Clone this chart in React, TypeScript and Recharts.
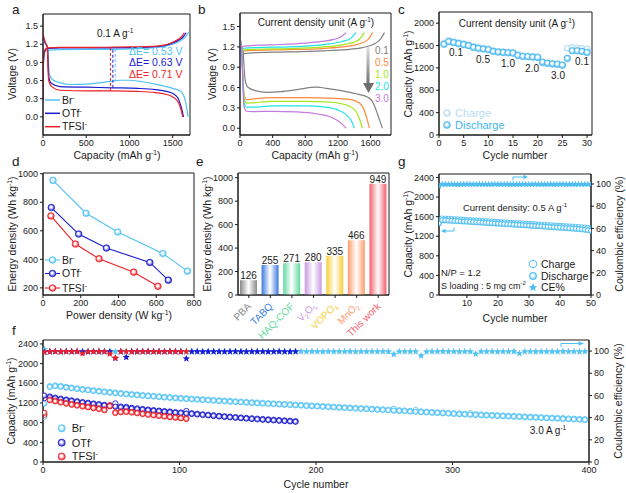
import React from "react"
import { LineChart, Line, XAxis, YAxis, ScatterChart, Scatter, BarChart, Bar, Cell, LabelList, ReferenceArea } from "recharts"

const FONT = '"Liberation Sans", Arial, sans-serif'
const INK = "#1a1a1a"
const BR = "#52c2f5"
const OTF = "#1b1bcf"
const TFSI = "#ee1f26"
const C_DIS = "#45b6f0"
const C_CH = "#b9dbf3"
const G_COL = "#4dbdf2"

// ---------- panel a: GCD curves at 0.1 A/g, [capacity, voltage]
const aBrCharge = [[0, 0.32], [6, 0.9], [18, 1.06], [50, 1.1], [200, 1.11], [600, 1.115], [1000, 1.125], [1250, 1.14], [1400, 1.165], [1500, 1.2], [1580, 1.25], [1640, 1.31], [1690, 1.41]]
const aOtfCharge = [[0, 0.28], [6, 0.92], [18, 1.08], [50, 1.13], [200, 1.14], [600, 1.14], [1000, 1.145], [1250, 1.155], [1400, 1.175], [1480, 1.21], [1560, 1.26], [1620, 1.32], [1655, 1.39]]
const aTfsiCharge = [[0, 0.25], [6, 0.95], [18, 1.1], [50, 1.14], [200, 1.15], [600, 1.15], [1000, 1.155], [1250, 1.165], [1400, 1.185], [1480, 1.22], [1550, 1.27], [1600, 1.32], [1635, 1.39]]
const aBrDis = [[0, 1.3], [30, 1.2], [55, 1.15], [62, 0.95], [72, 0.72], [100, 0.63], [180, 0.57], [320, 0.535], [500, 0.54], [700, 0.57], [900, 0.605], [1000, 0.605], [1150, 0.58], [1300, 0.54], [1450, 0.49], [1550, 0.45], [1600, 0.41], [1630, 0.34], [1650, 0.24], [1665, 0.12], [1678, 0]]
const aOtfDis = [[0, 1.33], [30, 1.21], [52, 1.15], [58, 0.9], [68, 0.65], [100, 0.55], [200, 0.5], [500, 0.49], [800, 0.48], [1100, 0.47], [1300, 0.45], [1430, 0.42], [1510, 0.38], [1560, 0.31], [1590, 0.2], [1610, 0.1], [1625, 0]]
const aTfsiDis = [[0, 1.36], [30, 1.22], [50, 1.16], [56, 0.88], [66, 0.6], [100, 0.5], [200, 0.44], [500, 0.43], [800, 0.43], [1100, 0.42], [1300, 0.4], [1430, 0.37], [1500, 0.33], [1550, 0.27], [1585, 0.17], [1605, 0.07], [1615, 0]]
// ΔE dashed markers: capacity, low, high
const aDash = [[780, 0.43, 1.15, TFSI], [808, 0.48, 1.14, OTF], [835, 0.58, 1.115, BR]]

// ---------- panel b: rate GCD curves
const bRates = ["0.1", "0.5", "1.0", "2.0", "3.0"]
const bColors = ["#808080", "#ff8a3d", "#a4e81a", "#20e3e8", "#c07ae0"]
const bCharge = [
  [[0, 0.3], [6, 0.9], [18, 1.06], [50, 1.1], [200, 1.115], [600, 1.125], [1000, 1.14], [1300, 1.16], [1500, 1.19], [1600, 1.22], [1680, 1.27], [1730, 1.33], [1770, 1.41]],
  [[0, 0.3], [6, 0.95], [18, 1.1], [50, 1.14], [200, 1.15], [600, 1.16], [1000, 1.175], [1250, 1.2], [1400, 1.225], [1500, 1.26], [1570, 1.31], [1625, 1.41]],
  [[0, 0.3], [6, 0.97], [18, 1.12], [50, 1.155], [200, 1.165], [600, 1.175], [900, 1.19], [1150, 1.21], [1300, 1.24], [1400, 1.27], [1470, 1.32], [1525, 1.41]],
  [[0, 0.3], [6, 1.0], [18, 1.15], [50, 1.18], [200, 1.19], [600, 1.2], [900, 1.22], [1100, 1.245], [1250, 1.28], [1350, 1.32], [1420, 1.41]],
  [[0, 0.3], [6, 1.02], [18, 1.18], [50, 1.21], [200, 1.225], [500, 1.235], [800, 1.255], [1000, 1.28], [1150, 1.31], [1240, 1.35], [1300, 1.41]],
]
const bDis = [
  [[0, 1.3], [25, 1.18], [40, 1.1], [50, 0.9], [65, 0.7], [100, 0.6], [200, 0.55], [320, 0.53], [500, 0.54], [700, 0.57], [930, 0.605], [1100, 0.58], [1300, 0.54], [1450, 0.5], [1560, 0.46], [1620, 0.4], [1670, 0.26], [1710, 0.12], [1745, 0]],
  [[0, 1.32], [20, 1.18], [35, 0.8], [50, 0.5], [80, 0.42], [150, 0.43], [400, 0.45], [800, 0.45], [1100, 0.445], [1300, 0.43], [1420, 0.4], [1490, 0.34], [1530, 0.24], [1560, 0.12], [1585, 0]],
  [[0, 1.32], [20, 1.18], [35, 0.75], [50, 0.45], [80, 0.37], [150, 0.375], [400, 0.395], [800, 0.395], [1100, 0.385], [1250, 0.36], [1350, 0.32], [1420, 0.25], [1460, 0.15], [1500, 0]],
  [[0, 1.32], [20, 1.18], [35, 0.7], [50, 0.38], [80, 0.31], [150, 0.31], [400, 0.33], [800, 0.33], [1050, 0.31], [1200, 0.27], [1300, 0.2], [1360, 0.12], [1400, 0]],
  [[0, 1.32], [20, 1.2], [35, 0.65], [50, 0.32], [80, 0.25], [150, 0.245], [400, 0.25], [700, 0.24], [950, 0.21], [1100, 0.17], [1200, 0.11], [1260, 0.05], [1300, 0]],
]

// ---------- panel c: rate capability, cycles 1..30
const cDischarge = [1622, 1670, 1652, 1634, 1616, 1598, 1567, 1550, 1538, 1526, 1495, 1483, 1477, 1471, 1465, 1423, 1405, 1400, 1393, 1387, 1303, 1285, 1273, 1267, 1250, 1370, 1507, 1507, 1495, 1477]
const cCharge = [1640, 1690, 1668, 1650, 1632, 1612, 1582, 1563, 1550, 1538, 1506, 1494, 1487, 1481, 1475, 1433, 1414, 1409, 1402, 1396, 1290, 1278, 1268, 1262, 1248, 1552, 1562, 1556, 1546, 1536]
const cRateLabels = [["0.1", 456, 52], ["0.5", 483, 59], ["1.0", 508, 63], ["2.0", 532, 68], ["3.0", 558, 75], ["0.1", 582, 61]]

// ---------- panel d: Ragone, [power, energy]
const dBr = [[53, 953], [228, 723], [396, 591], [635, 441], [765, 317]]
const dOtf = [[44, 763], [189, 577], [336, 479], [566, 378], [664, 254]]
const dTfsi = [[42, 704], [172, 507], [297, 404], [481, 310], [609, 211]]

// ---------- panel e: energy density comparison
const eNames = ["PBA", "TABQ", "HAQ-COF", "V2O5", "VOPO4", "MnO2", "This work"]
const eLabels = ["PBA", "TABQ", "HAQ-COF", "V_{2}O_{5}", "VOPO_{4}", "MnO_{2}", "This work"]
const eValues = [126, 255, 271, 280, 335, 466, 949]
const eColors = ["#8a8a8a", "#3b7be0", "#63d9a0", "#c79ae3", "#f7cf3a", "#ff9c6b", "#f2616e"]

// ---------- panel g: 0.5 A/g, cycles 1..50
const gDis = [1462, 1528, 1522, 1518, 1515, 1510, 1506, 1502, 1498, 1495, 1491, 1487, 1483, 1479, 1475, 1471, 1467, 1463, 1459, 1455, 1451, 1447, 1443, 1439, 1435, 1431, 1427, 1423, 1419, 1415, 1410, 1406, 1402, 1398, 1394, 1389, 1385, 1381, 1377, 1372, 1368, 1363, 1359, 1354, 1349, 1344, 1338, 1331, 1322, 1310]
const gCh = [1510, 1562, 1558, 1555, 1551, 1547, 1543, 1539, 1535, 1531, 1527, 1523, 1519, 1515, 1511, 1507, 1503, 1499, 1495, 1491, 1487, 1483, 1479, 1475, 1471, 1467, 1463, 1459, 1455, 1451, 1447, 1443, 1439, 1435, 1431, 1427, 1423, 1419, 1415, 1411, 1407, 1403, 1399, 1395, 1390, 1386, 1381, 1376, 1370, 1362]
const gCE = [98.0, 99.6, 99.7, 99.6, 99.8, 99.6, 99.7, 99.7, 99.6, 99.8, 99.7, 99.6, 99.7, 99.8, 99.6, 99.7, 99.7, 99.6, 99.8, 99.7, 99.6, 99.7, 99.8, 99.6, 99.7, 99.7, 99.6, 99.8, 99.7, 99.6, 99.7, 99.8, 99.6, 99.7, 99.7, 99.6, 99.8, 99.7, 99.6, 99.7, 99.8, 99.6, 99.7, 99.7, 99.6, 99.8, 99.7, 99.6, 99.7, 99.8]

// ---------- panel f: 3.0 A/g long cycling, every 4th cycle from cycle 1
const fBrDis = [1190, 1525, 1542, 1530, 1513, 1498, 1484, 1470, 1457, 1444, 1432, 1420, 1408, 1397, 1386, 1376, 1366, 1356, 1347, 1338, 1329, 1320, 1312, 1304, 1296, 1288, 1281, 1274, 1267, 1260, 1253, 1246, 1239, 1233, 1226, 1219, 1213, 1206, 1200, 1194, 1188, 1182, 1176, 1170, 1164, 1158, 1152, 1146, 1140, 1134, 1128, 1122, 1116, 1110, 1104, 1098, 1092, 1086, 1080, 1074, 1068, 1062, 1056, 1050, 1044, 1038, 1032, 1026, 1020, 1014, 1008, 1002, 996, 990, 984, 978, 972, 966, 961, 956, 951, 946, 941, 936, 931, 926, 921, 916, 911, 906, 901, 896, 891, 886, 881, 876, 871, 866, 861, 856]
const fBrCh = [920, 1540, 1556, 1544, 1527, 1512, 1497, 1483, 1470, 1457, 1445, 1433, 1421, 1410, 1399, 1389, 1379, 1369, 1360, 1351, 1342, 1333, 1325, 1317, 1309, 1301, 1294, 1287, 1280, 1273, 1266, 1259, 1252, 1246, 1239, 1232, 1226, 1219, 1213, 1207, 1201, 1195, 1189, 1183, 1177, 1171, 1165, 1159, 1153, 1147, 1141, 1135, 1129, 1123, 1117, 1111, 1105, 1099, 1093, 1087, 1081, 1075, 1069, 1063, 1080, 1051, 1045, 1039, 1055, 1027, 1021, 1015, 1009, 1003, 997, 991, 985, 979, 990, 969, 964, 959, 954, 949, 944, 939, 934, 929, 924, 919, 914, 909, 904, 899, 894, 889, 884, 879, 874, 869]
const fBrCE = [101.5, 99.4, 99.6, 99.5, 99.7, 99.5, 99.6, 99.4, 99.6, 99.5, 99.6, 99.5, 99.7, 99.4, 99.6, 99.5, 99.6, 99.5, 99.7, 99.5, 99.4, 99.6, 99.5, 99.6, 99.5, 99.7, 99.4, 99.6, 99.5, 99.6, 99.5, 99.6, 99.4, 99.6, 99.5, 99.7, 99.5, 99.6, 99.4, 99.6, 99.5, 99.6, 99.5, 99.7, 99.4, 99.6, 99.5, 99.6, 99.5, 99.7, 99.5, 99.4, 99.6, 99.5, 99.6, 99.5, 99.7, 99.4, 99.6, 99.5, 99.6, 99.5, 99.6, 99.4, 97.2, 99.5, 99.6, 99.5, 99.6, 95.8, 99.4, 99.6, 99.5, 99.7, 99.5, 99.6, 99.4, 99.6, 99.5, 97.5, 99.6, 99.5, 99.6, 99.4, 99.6, 99.5, 99.7, 98.0, 99.5, 99.6, 99.4, 99.6, 99.5, 99.6, 99.5, 99.7, 99.5, 99.6, 99.4, 99.6]
const fOtfDis = [1350, 1318, 1294, 1274, 1256, 1239, 1222, 1206, 1191, 1176, 1162, 1149, 1137, 1125, 1112, 1099, 1087, 1075, 1063, 1052, 1041, 1031, 1021, 1011, 1001, 993, 985, 977, 967, 957, 947, 936, 926, 917, 908, 899, 891, 883, 875, 867, 860, 853, 846, 839, 832, 825, 818]
const fOtfCh = [1300, 1330, 1306, 1286, 1268, 1251, 1234, 1218, 1203, 1188, 1174, 1161, 1149, 1190, 1125, 1120, 1100, 1088, 1076, 1064, 1053, 1043, 1033, 1025, 1013, 1005, 1035, 989, 979, 969, 959, 948, 938, 929, 920, 911, 903, 895, 887, 879, 872, 865, 858, 851, 844, 837, 830]
const fOtfCE = [99.2, 99.5, 99.6, 99.4, 99.6, 99.5, 99.6, 99.5, 99.4, 99.6, 99.5, 99.6, 99.4, 93.5, 99.5, 94.5, 99.6, 99.4, 99.6, 99.5, 99.6, 99.5, 99.4, 99.6, 99.5, 99.6, 93.2, 99.5, 99.6, 99.4, 99.6, 99.5, 99.6, 99.4, 99.5, 99.6, 99.5, 99.4, 99.6, 99.5, 99.6, 99.4, 99.5, 99.6, 99.5, 99.4, 99.6]
const fTfsiDis = [1000, 1255, 1232, 1208, 1186, 1165, 1146, 1128, 1111, 1094, 1076, 1052, 1135, 995, 1010, 1018, 1005, 990, 975, 960, 948, 936, 924, 912, 900, 888, 876]
const fTfsiCh = [960, 1268, 1244, 1220, 1198, 1177, 1158, 1140, 1123, 1106, 1088, 1064, 1150, 1010, 1025, 1030, 1016, 1001, 986, 972, 960, 947, 934, 922, 910, 898, 886]
const fTfsiCE = [99.0, 99.5, 99.6, 99.4, 99.6, 99.5, 99.6, 97.8, 99.4, 99.6, 99.5, 99.6, 97.5, 93.8, 99.5, 99.6, 99.4, 99.6, 99.5, 99.6, 99.5, 99.4, 99.6, 99.5, 99.6, 99.4, 99.5]

// ---------- helpers
type Rect = { l: number; t: number; r: number; b: number }
const MT = 4
const MR = 10
const XH = 16

function frame(p: Rect, yw: number, xh: number, yrw = 0) {
  return {
    style: { position: "absolute" as const, left: p.l - yw, top: p.t - MT },
    width: p.r - p.l + yw + yrw + (yrw ? 0 : MR),
    height: p.b - p.t + MT + xh,
    margin: { top: MT, right: yrw ? 0 : MR, bottom: 0, left: 0 },
  }
}

const ax = {
  stroke: INK,
  tickSize: 3,
  tickMargin: 2,
  interval: 0 as const,
  allowDataOverflow: true,
  tick: { fontSize: 9, fill: INK, fontFamily: FONT },
}

const cv = (arr: number[][]) => arr.map(([c, v]) => ({ c, v }))
const seq = (vals: number[], start: number, step: number) => vals.map((y, i) => ({ x: start + i * step, y }))

function rich(s: string, size: number) {
  const parts = s.split(/(\^\{[^}]*\}|_\{[^}]*\})/).filter(Boolean)
  let shift = 0
  return parts.map((p, i) => {
    let target = 0
    let txt = p
    let fs = size
    if (p.startsWith("^{")) { target = -size * 0.38; txt = p.slice(2, -1); fs = size * 0.65 }
    else if (p.startsWith("_{")) { target = size * 0.22; txt = p.slice(2, -1); fs = size * 0.65 }
    const dy = target - shift
    shift = target
    return <tspan key={i} dy={dy} fontSize={fs}>{txt}</tspan>
  })
}

function Tx({ x, y, s, size = 10.5, fill = INK, anchor = "start", rot = 0 }: any) {
  return (
    <text x={x} y={y} fontSize={size} fill={fill} textAnchor={anchor} fontFamily={FONT}
      transform={rot ? `rotate(${rot} ${x} ${y})` : undefined}>
      {rich(s, size)}
    </text>
  )
}

function starPath(cx: number, cy: number, R: number, r: number) {
  let d = ""
  for (let k = 0; k < 10; k++) {
    const rad = k % 2 ? r : R
    const a = -Math.PI / 2 + (k * Math.PI) / 5
    d += (k ? "L" : "M") + (cx + rad * Math.cos(a)).toFixed(2) + "," + (cy + rad * Math.sin(a)).toFixed(2)
  }
  return d + "Z"
}

const sphere = (grad: string, stroke: string, r: number) => (p: any) =>
  <circle cx={p.cx} cy={p.cy} r={r} fill={`url(#${grad})`} stroke={stroke} strokeWidth={0.6} />
const ring = (stroke: string, r: number) => (p: any) =>
  <circle cx={p.cx} cy={p.cy} r={r} fill="none" stroke={stroke} strokeWidth={0.9} />
const star = (fill: string, R: number) => (p: any) =>
  <path d={starPath(p.cx, p.cy, R, R * 0.45)} fill={fill} />

function Defs() {
  const sph = [["sph-br", BR], ["sph-otf", OTF], ["sph-tfsi", TFSI], ["sph-c", C_DIS], ["sph-cc", C_CH], ["sph-g", G_COL]]
  return (
    <svg width={0} height={0} style={{ position: "absolute" }}>
      <defs>
        {sph.map(([id, c]) => (
          <radialGradient key={id} id={id} cx="0.5" cy="0.5" r="0.5" fx="0.42" fy="0.38">
            <stop offset="0" stopColor="#ffffff" />
            <stop offset="0.3" stopColor="#ffffff" />
            <stop offset="1" stopColor={c} />
          </radialGradient>
        ))}
        {eColors.map((c, i) => (
          <linearGradient key={i} id={`bar-${i}`} x1="0" y1="0" x2="1" y2="0">
            <stop offset="0" stopColor={c} />
            <stop offset="0.5" stopColor="#ffffff" />
            <stop offset="1" stopColor={c} />
          </linearGradient>
        ))}
        <linearGradient id="arrow-b" x1="0" y1="0" x2="0" y2="1">
          <stop offset="0" stopColor="#e0e0e0" />
          <stop offset="1" stopColor="#6e6e6e" />
        </linearGradient>
      </defs>
    </svg>
  )
}

// ---------- panels
const PA: Rect = { l: 43, t: 14, r: 190, b: 135 }
function PanelA() {
  const f = frame(PA, 28, XH)
  const series = [[aBrCharge, BR], [aBrDis, BR], [aOtfCharge, OTF], [aOtfDis, OTF], [aTfsiCharge, TFSI], [aTfsiDis, TFSI]] as const
  return (
    <div style={f.style}>
      <LineChart width={f.width} height={f.height} margin={f.margin}>
        <XAxis type="number" dataKey="c" domain={[0, 1700]} ticks={[0, 500, 1000, 1500]} height={XH} {...ax} />
        <YAxis type="number" dataKey="v" domain={[-0.3, 1.7]} ticks={[0, 0.3, 0.6, 0.9, 1.2, 1.5]} tickFormatter={(v: number) => v.toFixed(1)} width={28} {...ax} />
        <ReferenceArea x1={0} x2={1700} y1={-0.3} y2={1.7} fill="none" stroke={INK} strokeWidth={1} />
        {series.map(([d, c], i) => (
          <Line key={i} data={cv(d as any)} dataKey="v" type="monotone" stroke={c} strokeWidth={1.2} dot={false} isAnimationActive={false} />
        ))}
        {aDash.map(([x, lo, hi, c], i) => (
          <Line key={"d" + i} data={[{ c: x, v: lo }, { c: x, v: hi }]} dataKey="v" type="linear" stroke={c as string} strokeWidth={1} strokeDasharray="3 2" dot={false} isAnimationActive={false} />
        ))}
      </LineChart>
    </div>
  )
}

const PB: Rect = { l: 240, t: 13, r: 391, b: 135 }
function PanelB() {
  const f = frame(PB, 28, XH)
  return (
    <div style={f.style}>
      <LineChart width={f.width} height={f.height} margin={f.margin}>
        <XAxis type="number" dataKey="c" domain={[0, 1850]} ticks={[0, 400, 800, 1200, 1600]} height={XH} {...ax} />
        <YAxis type="number" dataKey="v" domain={[-0.1, 1.7]} ticks={[0, 0.3, 0.6, 0.9, 1.2, 1.5]} tickFormatter={(v: number) => v.toFixed(1)} width={28} {...ax} />
        <ReferenceArea x1={0} x2={1850} y1={-0.1} y2={1.7} fill="none" stroke={INK} strokeWidth={1} />
        {bRates.map((r, i) => (
          <Line key={"c" + r} data={cv(bCharge[i])} dataKey="v" type="monotone" stroke={bColors[i]} strokeWidth={1.2} dot={false} isAnimationActive={false} />
        ))}
        {bRates.map((r, i) => (
          <Line key={"d" + r} data={cv(bDis[i])} dataKey="v" type="monotone" stroke={bColors[i]} strokeWidth={1.2} dot={false} isAnimationActive={false} />
        ))}
      </LineChart>
    </div>
  )
}

const PC: Rect = { l: 439, t: 12, r: 592, b: 135 }
function PanelC() {
  const f = frame(PC, 30, XH)
  return (
    <div style={f.style}>
      <ScatterChart width={f.width} height={f.height} margin={f.margin}>
        <XAxis type="number" dataKey="x" domain={[0, 31]} ticks={[0, 5, 10, 15, 20, 25, 30]} height={XH} {...ax} />
        <YAxis type="number" dataKey="y" domain={[0, 2200]} ticks={[0, 400, 800, 1200, 1600, 2000]} width={30} {...ax} />
        <ReferenceArea x1={0} x2={31} y1={0} y2={2200} fill="none" stroke={INK} strokeWidth={1} />
        <Scatter data={seq(cCharge, 1, 1)} shape={sphere("sph-cc", C_CH, 3.3)} isAnimationActive={false} />
        <Scatter data={seq(cDischarge, 1, 1)} shape={sphere("sph-c", C_DIS, 3.3)} isAnimationActive={false} />
      </ScatterChart>
    </div>
  )
}

const PD: Rect = { l: 43, t: 173, r: 194, b: 295 }
function PanelD() {
  const f = frame(PD, 30, XH)
  const series = [[dBr, BR, "sph-br"], [dOtf, OTF, "sph-otf"], [dTfsi, TFSI, "sph-tfsi"]] as const
  return (
    <div style={f.style}>
      <LineChart width={f.width} height={f.height} margin={f.margin}>
        <XAxis type="number" dataKey="c" domain={[0, 800]} ticks={[0, 200, 400, 600, 800]} height={XH} {...ax} />
        <YAxis type="number" dataKey="v" domain={[150, 1005]} ticks={[200, 400, 600, 800, 1000]} width={30} {...ax} />
        <ReferenceArea x1={0} x2={800} y1={150} y2={1005} fill="none" stroke={INK} strokeWidth={1} />
        {series.map(([d, c, g], i) => (
          <Line key={i} data={cv(d as any)} dataKey="v" type="linear" stroke={c} strokeWidth={1.1} isAnimationActive={false}
            dot={(p: any) => <circle key={`${i}-${p.index}`} cx={p.cx} cy={p.cy} r={3.3} fill={`url(#${g})`} stroke={c} strokeWidth={0.7} />} />
        ))}
      </LineChart>
    </div>
  )
}

const ETick = (props: any) => {
  const { x, y, payload } = props
  const i = eNames.indexOf(payload.value)
  const tx = x + 3
  const ty = y + 7
  return (
    <text x={tx} y={ty} transform={`rotate(-45 ${tx} ${ty})`} textAnchor="end" fontSize={10} fill={eColors[i]} fontFamily={FONT}>
      {rich(eLabels[i], 10)}
    </text>
  )
}

const PE: Rect = { l: 238, t: 173, r: 389, b: 295 }
function PanelE() {
  const f = frame(PE, 30, 45)
  const data = eNames.map((name, i) => ({ name, v: eValues[i] }))
  return (
    <div style={f.style}>
      <BarChart width={f.width} height={f.height} margin={f.margin} data={data} barCategoryGap={2}>
        <XAxis type="category" dataKey="name" {...ax} allowDataOverflow={false} tick={<ETick />} height={45} />
        <YAxis type="number" domain={[0, 1040]} ticks={[0, 200, 400, 600, 800, 1000]} width={30} {...ax} />
        <ReferenceArea y1={0} y2={1040} fill="none" stroke={INK} strokeWidth={1} />
        <Bar dataKey="v" barSize={17} isAnimationActive={false}>
          {data.map((_, i) => <Cell key={i} fill={`url(#bar-${i})`} />)}
          <LabelList dataKey="v" position="top" offset={1} fontSize={10} fill={INK} fontFamily={FONT} />
        </Bar>
      </BarChart>
    </div>
  )
}

const PG: Rect = { l: 439, t: 174, r: 591, b: 295 }
function PanelG() {
  const f = frame(PG, 30, XH, 24)
  return (
    <div style={f.style}>
      <ScatterChart width={f.width} height={f.height} margin={f.margin}>
        <XAxis type="number" dataKey="x" domain={[1, 50]} ticks={[10, 20, 30, 40, 50]} height={XH} {...ax} />
        <YAxis yAxisId="l" type="number" dataKey="y" domain={[0, 2470]} ticks={[0, 400, 800, 1200, 1600, 2000, 2400]} width={30} {...ax} />
        <YAxis yAxisId="r" orientation="right" type="number" dataKey="y" domain={[0, 109]} ticks={[0, 20, 40, 60, 80, 100]} width={24} {...ax} />
        <ReferenceArea yAxisId="l" x1={1} x2={50} y1={0} y2={2470} fill="none" stroke={INK} strokeWidth={1} />
        <Scatter yAxisId="l" data={seq(gCh, 1, 1)} shape={ring(G_COL, 2.6)} isAnimationActive={false} />
        <Scatter yAxisId="l" data={seq(gDis, 1, 1)} shape={sphere("sph-g", G_COL, 2.6)} isAnimationActive={false} />
        <Scatter yAxisId="r" data={seq(gCE, 1, 1)} shape={star(G_COL, 3.6)} isAnimationActive={false} />
      </ScatterChart>
    </div>
  )
}

const PF: Rect = { l: 43, t: 340, r: 589, b: 462 }
function PanelF() {
  const f = frame(PF, 30, XH, 24)
  return (
    <div style={f.style}>
      <ScatterChart width={f.width} height={f.height} margin={f.margin}>
        <XAxis type="number" dataKey="x" domain={[0, 400]} ticks={[0, 100, 200, 300, 400]} height={XH} {...ax} />
        <YAxis yAxisId="l" type="number" dataKey="y" domain={[0, 2480]} ticks={[0, 400, 800, 1200, 1600, 2000, 2400]} width={30} {...ax} />
        <YAxis yAxisId="r" orientation="right" type="number" dataKey="y" domain={[0, 110]} ticks={[0, 20, 40, 60, 80, 100]} width={24} {...ax} />
        <ReferenceArea yAxisId="l" x1={0} x2={400} y1={0} y2={2480} fill="none" stroke={INK} strokeWidth={1} />
        <Scatter yAxisId="l" data={seq(fBrCh, 1, 4)} shape={ring(BR, 2.7)} isAnimationActive={false} />
        <Scatter yAxisId="l" data={seq(fBrDis, 1, 4)} shape={sphere("sph-br", BR, 2.7)} isAnimationActive={false} />
        <Scatter yAxisId="l" data={seq(fOtfCh, 1, 4)} shape={ring(OTF, 2.7)} isAnimationActive={false} />
        <Scatter yAxisId="l" data={seq(fOtfDis, 1, 4)} shape={sphere("sph-otf", OTF, 2.7)} isAnimationActive={false} />
        <Scatter yAxisId="l" data={seq(fTfsiCh, 1, 4)} shape={ring(TFSI, 2.7)} isAnimationActive={false} />
        <Scatter yAxisId="l" data={seq(fTfsiDis, 1, 4)} shape={sphere("sph-tfsi", TFSI, 2.7)} isAnimationActive={false} />
        <Scatter yAxisId="r" data={seq(fBrCE, 1, 4)} shape={star(BR, 3.8)} isAnimationActive={false} />
        <Scatter yAxisId="r" data={seq(fOtfCE, 1, 4)} shape={star(OTF, 3.8)} isAnimationActive={false} />
        <Scatter yAxisId="r" data={seq(fTfsiCE, 1, 4)} shape={star(TFSI, 3.8)} isAnimationActive={false} />
      </ScatterChart>
    </div>
  )
}

// ---------- annotations: titles, legends, arrows
function Overlay() {
  const cap = "Capacity (mAh g^{-1})"
  const ed = "Energy density (Wh kg^{-1})"
  const ce = "Coulombic efficiency (%)"
  const legA = [["Br^{-}", BR, 100], ["OTf^{-}", OTF, 113.3], ["TFSI^{-}", TFSI, 126.7]] as const
  const legD = [["Br^{-}", BR, "sph-br", 260], ["OTf^{-}", OTF, "sph-otf", 273.5], ["TFSI^{-}", TFSI, "sph-tfsi", 288]] as const
  const legF = [["Br^{-}", BR, "sph-br", 428.3], ["OTf^{-}", OTF, "sph-otf", 442.7], ["TFSI^{-}", TFSI, "sph-tfsi", 456.5]] as const
  const rateY = [50, 62, 74, 86, 98]
  return (
    <svg width={626} height={493} style={{ position: "absolute", left: 0, top: 0, pointerEvents: "none" }}>
      {/* panel letters */}
      <Tx x={12} y={14} s="a" size={13.5} />
      <Tx x={198} y={14} s="b" size={13.5} />
      <Tx x={398} y={14} s="c" size={13.5} />
      <Tx x={12} y={166} s="d" size={13.5} />
      <Tx x={196} y={166} s="e" size={13.5} />
      <Tx x={398} y={166} s="g" size={13.5} />
      <Tx x={12} y={335} s="f" size={13.5} />

      {/* a */}
      <Tx x={15.7} y={74} s="Voltage (V)" anchor="middle" rot={-90} />
      <Tx x={117} y={158.7} s={cap} anchor="middle" />
      <Tx x={97} y={36.5} s="0.1 A g^{-1}" size={10} />
      <Tx x={129} y={54.5} s="ΔE= 0.53 V" size={10.5} fill={BR} />
      <Tx x={129} y={66} s="ΔE= 0.63 V" size={10.5} fill={OTF} />
      <Tx x={129} y={77.5} s="ΔE= 0.71 V" size={10.5} fill={TFSI} />
      {legA.map(([t, c, y]) => (
        <g key={t}>
          <line x1={45} x2={60} y1={y} y2={y} stroke={c} strokeWidth={1.5} />
          <Tx x={62} y={y + 3.7} s={t} size={10.5} />
        </g>
      ))}

      {/* b */}
      <Tx x={215.7} y={74} s="Voltage (V)" anchor="middle" rot={-90} />
      <Tx x={315} y={158.7} s={cap} anchor="middle" />
      <Tx x={316} y={26} s="Current density unit (A g^{-1})" size={10} anchor="middle" />
      {bRates.map((r, i) => (
        <Tx key={r} x={375} y={rateY[i] + 3.6} s={r} size={10} fill={bColors[i]} />
      ))}
      <rect x={366.5} y={47} width={3} height={37} fill="url(#arrow-b)" />
      <polygon points="363,83 374,83 368.5,93" fill="#6e6e6e" />

      {/* c */}
      <Tx x={411.7} y={74} s={cap} anchor="middle" rot={-90} />
      <Tx x={515} y={158.7} s="Cycle number" anchor="middle" />
      <Tx x={517} y={26.5} s="Current density unit (A g^{-1})" size={10} anchor="middle" />
      {cRateLabels.map(([t, x, y], i) => (
        <Tx key={i} x={x} y={(y as number) + 3.6} s={t} size={10} anchor="middle" />
      ))}
      <circle cx={447} cy={113} r={3.4} fill="url(#sph-cc)" stroke={C_CH} strokeWidth={0.6} />
      <Tx x={455} y={117} s="Charge" size={11} fill={C_CH} />
      <circle cx={447} cy={125} r={3.4} fill="url(#sph-c)" stroke={C_DIS} strokeWidth={0.6} />
      <Tx x={455} y={129} s="Discharge" size={11} fill={C_DIS} />

      {/* d */}
      <Tx x={15.7} y={234} s={ed} anchor="middle" rot={-90} />
      <Tx x={119} y={318.7} s="Power density (W kg^{-1})" anchor="middle" />
      {legD.map(([t, c, g, y]) => (
        <g key={t}>
          <line x1={45} x2={60} y1={y} y2={y} stroke={c} strokeWidth={1.1} />
          <circle cx={52.5} cy={y} r={3.3} fill={`url(#${g})`} stroke={c} strokeWidth={0.7} />
          <Tx x={62} y={y + 3.7} s={t} size={10.5} />
        </g>
      ))}

      {/* e */}
      <Tx x={210.7} y={234} s={ed} anchor="middle" rot={-90} />

      {/* g */}
      <Tx x={411.7} y={234} s={cap} anchor="middle" rot={-90} />
      <Tx x={622.7} y={234} s={ce} anchor="middle" rot={-90} />
      <Tx x={515} y={321.7} s="Cycle number" anchor="middle" />
      <Tx x={515} y={210.5} s="Current density: 0.5 A g^{-1}" size={9.5} anchor="middle" />
      <Tx x={441} y={275.5} s="N/P = 1.2" size={9.5} />
      <Tx x={441} y={288.5} s="S loading : 5 mg cm^{-2}" size={9} />
      <circle cx={533} cy={264} r={3.7} fill="none" stroke={G_COL} strokeWidth={1} />
      <Tx x={541} y={267.7} s="Charge" size={10.5} />
      <circle cx={533} cy={276} r={3.7} fill="url(#sph-g)" stroke={G_COL} strokeWidth={0.6} />
      <Tx x={541} y={279.7} s="Discharge" size={10.5} />
      <path d={starPath(533, 287.5, 4.4, 2)} fill={G_COL} />
      <Tx x={541} y={291.2} s="CE%" size={10.5} />
      <path d="M513,180.5 L513,177 L524,177" fill="none" stroke={G_COL} strokeWidth={1} />
      <polygon points="523.5,174.8 528,177 523.5,179.2" fill={G_COL} />
      <path d="M454,227.5 L454,231 L445,231" fill="none" stroke={G_COL} strokeWidth={1} />
      <polygon points="445.5,228.8 441,231 445.5,233.2" fill={G_COL} />

      {/* f */}
      <Tx x={14.7} y={401} s={cap} anchor="middle" rot={-90} />
      <Tx x={621.7} y={401} s={ce} anchor="middle" rot={-90} />
      <Tx x={316} y={487.7} s="Cycle number" anchor="middle" />
      <Tx x={548} y={433.5} s="3.0 A g^{-1}" size={10} anchor="middle" />
      {legF.map(([t, c, g, y]) => (
        <g key={t}>
          <circle cx={61.7} cy={y} r={3.6} fill={`url(#${g})`} stroke={c} strokeWidth={0.6} />
          <Tx x={71.7} y={y + 3.8} s={t} size={11} />
        </g>
      ))}
      <path d="M561,347 L561,343.5 L579,343.5" fill="none" stroke={BR} strokeWidth={1} />
      <polygon points="578.5,341.2 584,343.5 578.5,345.8" fill={BR} />
    </svg>
  )
}

export default function App() {
  return (
    <div style={{ position: "fixed", left: 0, top: 0, width: 626, height: 493, background: "#fff", fontFamily: FONT, overflow: "hidden" }}>
      <Defs />
      <PanelA />
      <PanelB />
      <PanelC />
      <PanelD />
      <PanelE />
      <PanelG />
      <PanelF />
      <Overlay />
    </div>
  )
}
